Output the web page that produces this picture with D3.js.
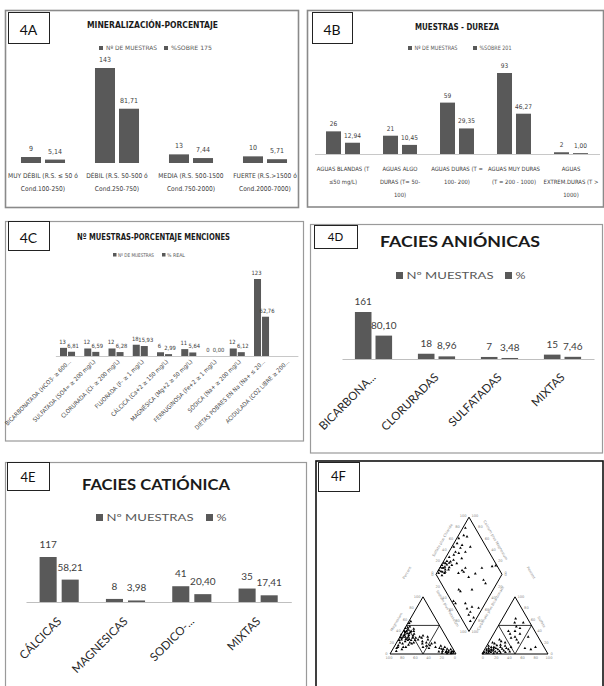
<!DOCTYPE html>
<html><head><meta charset="utf-8">
<script src="https://cdn.jsdelivr.net/npm/d3@7"></script>
<style>body{margin:0;background:#fff}svg{display:block}</style>
</head><body>
<script>
// ================= DATA =================
const panelLabels = ["4A","4B","4C","4D","4E","4F"];
const titles = ["MINERALIZACIÓN-PORCENTAJE","MUESTRAS - DUREZA","Nº MUESTRAS-PORCENTAJE MENCIONES","FACIES ANIÓNICAS","FACIES CATIÓNICA"];

const catsA = [["MUY DÉBIL (R.S. ≤ 50 ó","Cond.100-250)"],["DÉBIL (R.S. 50-500 ó","Cond.250-750)"],["MEDIA (R.S. 500-1500","Cond.750-2000)"],["FUERTE (R.S.>1500 ó","Cond.2000-7000)"]];
const nA = [9,143,13,10];
const pctA = [5.14,81.71,7.44,5.71];
const legendA = ["Nº DE MUESTRAS","%SOBRE 175"];

const catsB = [["AGUAS BLANDAS (T","≤50 mg/L)"],["AGUAS ALGO","DURAS (T= 50-","100)"],["AGUAS DURAS (T =","100- 200)"],["AGUAS MUY DURAS","(T = 200 - 1000)"],["AGUAS","EXTREM.DURAS (T >","1000)"]];
const nB = [26,21,59,93,2];
const pctB = [12.94,10.45,29.35,46.27,1.00];
const legendB = ["Nº DE MUESTRAS","%SOBRE 201"];

const catsC = ["BICARBONATADA (HCO3- ≥ 600...","SULFATADA (SO4= ≥ 200 mg/L)","CLORURADA (Cl- ≥ 200 mg/L)","FLUORADA (F- ≥ 1 mg/L)","CÁLCICA (Ca+2 ≥ 150 mg/L)","MAGNÉSICA (Mg+2 ≥ 50 mg/L)","FERRUGINOSA (Fe+2 ≥ 1 mg/L)","SÓDICA (Na+ ≥ 200 mg/L)","DIETAS POBRES EN Na (Na+ ≤ 20...","ACIDULADA (CO2 LIBRE ≥ 200..."];
const nC = [13,12,12,18,6,11,0,12,123,null];
const pctC = [6.81,6.59,6.28,15.93,2.99,5.64,0,6.12,62.76,null];
const legendC = ["Nº DE MUESTRAS","% REAL"];

const catsD = ["BICARBONA...","CLORURADAS","SULFATADAS","MIXTAS"];
const nD = [161,18,7,15];
const pctD = [80.10,8.96,3.48,7.46];
const legendD = ["Nº MUESTRAS","%"];

const catsE = ["CÁLCICAS","MAGNESICAS","SODICO-...","MIXTAS"];
const nE = [117,8,41,35];
const pctE = [58.21,3.98,20.40,17.41];
const legendE = ["Nº MUESTRAS","%"];

// Piper diagram (4F)
const pipTicks = [0,20,40,60,80,100];
// cation triangle points: [Ca %, Mg %] (Na+K = remainder)
const cationPts = [
[80,15],[75,20],[70,25],[68,28],[65,30],[62,33],[60,35],[58,38],[55,40],[52,42],
[72,18],[66,22],[63,26],[60,28],[57,30],[55,33],[53,36],[50,38],[48,40],[70,12],
[64,16],[60,20],[56,24],[52,28],[49,32],[46,35],[44,40],[42,44],[58,18],[54,20],
[50,24],[47,28],[85,10],[78,8],[74,12],[88,5],[82,12],[58,40],[54,45],[50,46],
[46,48],[44,54],[40,57],[66,34],[70,29],[74,24],[62,30],[58,26],[56,36],[61,24],
[45,25],[40,22],[38,28],[35,20],[42,18],[30,25],[32,15],[28,18],[25,12],[36,10],
[40,30],[34,32],[28,30],[22,20],[38,14],[44,12],
[15,8],[12,5],[10,3],[8,6],[6,2],[5,4],[3,2],[14,3],[18,5],[20,10],[9,9],[4,8],[2,5],[11,12],[16,14],[7,1],[13,1],[20,2],[24,4],[17,9]
];
// anion triangle points: [Cl %, SO4 %] (CO3+HCO3 = remainder)
const anionPts = [
[2,3],[4,6],[6,2],[8,5],[10,8],[12,3],[14,6],[5,10],[3,14],[8,12],[12,12],[16,10],[18,4],[20,8],[22,12],[24,5],[26,9],[15,15],[10,18],[6,20],
[20,16],[28,14],[30,6],[32,10],[34,3],[36,8],[25,20],[18,22],[14,25],[3,8],[7,7],[11,6],[9,2],[17,1],[22,2],[27,2],[38,12],[40,4],[1,1],[13,9],
[25,35],[30,40],[35,30],[40,25],[28,48],[35,45],[20,40],[22,55],[45,20],[40,35],[30,28],
[60,10],[70,8],[75,12],[55,30],[20,62],[35,55]
];
// diamond points: [SO4+Cl %, Ca+Mg %]
const diamondPts = [
[85,96],[76,92],[66,97],[80,86],[65,86],[49,90],[53,84],[44,90],[64,75],[53,75],
[39,86],[33,89],[24,95],[17,99],[13,99],[17,94],[8,99],[16,88],[23,85],[32,84],
[41,78],[50,61],[43,64],[44,60],[35,67],[60,41],[75,36],[67,23],[67,17],[92,22],
[98,17],[47,48],[41,32],[21,52],[22,48],[3,50],[4,45],[19,30],[17,23],[19,15],
[26,17],[35,6],[14,15],[19,5],[11,7],[59,95],[60,86],[51,97],[76,72],
[5,97],[10,95],[12,92],[15,96],[20,93],[8,90],[18,90],[25,92],[28,95],[22,98],[30,90],[35,95],[14,88],[26,86]
];

// ================= DRAWING =================
const NARROW = "'Liberation Sans Narrow','Arial Narrow','DejaVu Sans Condensed',sans-serif";
const CAL = "Lato,'Open Sans','Noto Sans',sans-serif";
const BAR = "#595959", TXT = "#404040";
const svg = d3.select("body").append("svg").attr("width",604).attr("height",686);
svg.append("rect").attr("width",604).attr("height",686).attr("fill","#fff");

// panel frames
const frames = [
  {x:5.5,y:10.5,w:293,h:197,c:"#8a8a8a",sw:1.6},
  {x:307.5,y:10.5,w:296,h:196.5,c:"#8a8a8a",sw:1.6},
  {x:5.5,y:221.5,w:298,h:219.5,c:"#9a9a9a",sw:1.2},
  {x:310.5,y:224.5,w:292,h:228.5,c:"#9a9a9a",sw:1.2},
  {x:5.5,y:462.5,w:301,h:240,c:"#9a9a9a",sw:1.2},
  {x:316,y:461,w:287,h:240,c:"#111",sw:1.6}
];
frames.forEach(f=>svg.append("rect").attr("x",f.x).attr("y",f.y).attr("width",f.w).attr("height",f.h)
  .attr("fill","none").attr("stroke",f.c).attr("stroke-width",f.sw));

const fmtN = v => String(v);
const fmtP = v => v.toFixed(2).replace(".",",");

function barChart(o){
  const g = svg.append("g");
  const idx = d3.range(o.n.length);
  const x0 = d3.scaleBand().domain(idx).range(o.xr).paddingInner(o.p).paddingOuter(o.p/2);
  const x1 = d3.scaleBand().domain([0,1]).range([0,x0.bandwidth()]).paddingInner(o.q);
  const y = d3.scaleLinear().domain([0,o.ymax]).range([o.base,o.top]);
  const series = [o.n,o.pct];
  if(o.axis){
    const ax = g.append("g").attr("transform",`translate(0,${o.base})`)
      .call(d3.axisBottom(x0).tickSize(0).tickSizeOuter(0).tickFormat(""));
    ax.select(".domain").attr("stroke",o.axisColor||"#bfbfbf").attr("stroke-width",1);
  }
  series.forEach((s,si)=>{
    const data = idx.filter(i=>s[i]!==null);
    g.selectAll(null).data(data).enter().append("rect")
      .attr("x",i=>x0(i)+x1(si)).attr("y",i=>y(s[i]))
      .attr("width",x1.bandwidth()).attr("height",i=>o.base-y(s[i]))
      .attr("fill",BAR);
    g.selectAll(null).data(data).enter().append("text")
      .attr("x",i=>x0(i)+x1(si)+x1.bandwidth()/2 + (o.vdx?o.vdx[si]:0)).attr("y",i=>y(s[i])-o.lgap)
      .attr("text-anchor","middle").attr("font-family",o.font).attr("font-size",o.vfs)
      .attr("fill",TXT).text(i=>si===0?fmtN(s[i]):fmtP(s[i]));
  });
  // legend
  o.legend.forEach((t,k)=>{
    g.append("rect").attr("x",o.lx[k]).attr("y",o.ly-o.sq).attr("width",o.sq).attr("height",o.sq).attr("fill",BAR);
    const tx = g.append("text").attr("x",o.lx[k]+o.sq+o.lgapx).attr("y",o.ly)
      .attr("font-family",o.font).attr("font-size",o.lfs).attr("fill","#595959").text(t);
    if(o.lw) tx.attr("textLength",o.lw[k]).attr("lengthAdjust","spacingAndGlyphs");
  });
  // title
  const tt = g.append("text").attr("x",o.tx).attr("y",o.ty).attr("text-anchor","middle")
    .attr("font-family",o.tfont).attr("font-weight","bold").attr("font-size",o.tfs).attr("fill","#1a1a1a").text(o.title);
  if(o.tw) tt.attr("textLength",o.tw).attr("lengthAdjust","spacingAndGlyphs");
  // category labels
  if(o.rot){
    g.selectAll(null).data(idx).enter().append("text")
      .attr("transform",i=>`translate(${x0(i)+x0.bandwidth()/2+o.cdx},${o.cy}) rotate(-45)`)
      .attr("text-anchor","end").attr("font-family",o.font).attr("font-size",o.cfs).attr("fill",o.cfill||TXT)
      .text(i=>o.cats[i]);
  } else {
    idx.forEach(i=>{
      const t = g.append("text").attr("text-anchor","middle").attr("font-family",o.font)
        .attr("font-size",o.cfs).attr("fill",TXT);
      o.cats[i].forEach((line,j)=>t.append("tspan").attr("x",x0(i)+x0.bandwidth()/2).attr("y",o.cy+j*o.clh).text(line));
    });
  }
}

barChart({cats:catsA,n:nA,pct:pctA,legend:legendA,title:titles[0],xr:[6,302],p:0.405,q:0.1667,
  ymax:143,base:163,top:68,lgap:6,font:NARROW,vfs:7,axis:false,
  lx:[99,164],ly:50,sq:4,lgapx:3,lfs:6,lw:[51,41],
  tx:152.5,ty:28,tfont:NARROW,tfs:9.5,tw:131,cy:178,clh:13,cfs:6.6});

barChart({cats:catsB,n:nB,pct:pctB,legend:legendB,title:titles[1],xr:[314.5,599.5],p:0.404,q:0.21,
  ymax:93,base:154,top:73,lgap:5,font:NARROW,vfs:6.5,axis:true,axisColor:"#c8c8c8",
  lx:[408,473],ly:50,sq:4,lgapx:2.5,lfs:6,lw:[43,32],
  tx:457,ty:30,tfont:NARROW,tfs:9.5,tw:84,cy:170.5,clh:13,cfs:5.9});

barChart({cats:catsC,n:nC,pct:pctC,legend:legendC,title:titles[2],xr:[55.4,297.9],p:0.38,q:0.125,
  ymax:123,base:356,top:279,lgap:4,font:NARROW,vfs:5.8,axis:true,axisColor:"#c8c8c8",vdx:[-1,1.5],
  lx:[113,162],ly:256.5,sq:3.5,lgapx:1.5,lfs:5,lw:[36,18],
  tx:153.5,ty:240,tfont:NARROW,tfs:8.5,tw:153,rot:true,cdx:4,cy:362,cfs:6});

barChart({cats:catsD,n:nD,pct:pctD,legend:legendD,title:titles[3],xr:[342,594],p:0.41,q:0.195,
  ymax:161,base:359,top:312,lgap:7,font:CAL,vfs:10,axis:true,axisColor:"#bfbfbf",
  lx:[396,505],ly:279,sq:7,lgapx:3.5,lfs:10,lw:[87,10],
  tx:460,ty:247,tfont:CAL,tfs:15,tw:160,rot:true,cdx:3,cy:378,cfs:11.5,cfill:"#262626"});

barChart({cats:catsE,n:nE,pct:pctE,legend:legendE,title:titles[4],xr:[26,291.3],p:0.41,q:0.227,
  ymax:117,base:602,top:557,lgap:9,font:CAL,vfs:10,axis:true,axisColor:"#bfbfbf",
  lx:[96,206],ly:521,sq:7,lgapx:3.5,lfs:10,lw:[87,10],
  tx:156,ty:490,tfont:CAL,tfs:15,tw:148,rot:true,cdx:3,cy:622,cfs:11.5,cfill:"#262626"});

// panel labels
const lboxes = [
  {x:8,y:12,w:41,h:31,fs:14,by:35},
  {x:312,y:12,w:40,h:31,fs:14,by:35},
  {x:8,y:221,w:41,h:29,fs:14,by:243},
  {x:314,y:225,w:43,h:23,fs:11.5,by:241},
  {x:7,y:462,w:42,h:28,fs:13,by:482},
  {x:318,y:462,w:41,h:29,fs:13,by:481}
];
lboxes.forEach((b,i)=>{
  svg.append("rect").attr("x",b.x+0.5).attr("y",b.y+0.5).attr("width",b.w).attr("height",b.h)
    .attr("fill","#fff").attr("stroke","#222").attr("stroke-width",1);
  svg.append("text").attr("x",b.x+b.w/2).attr("y",b.by).attr("text-anchor","middle")
    .attr("font-family",CAL).attr("font-size",b.fs).attr("fill","#111").text(panelLabels[i]);
});

// ================= PIPER (4F) =================
const P = svg.append("g");
const side = 66, gap = 26, baseY = 654, lx0 = 390;
const hgt = side*Math.sqrt(3)/2;
const tY = d3.scaleLinear().domain([0,100]).range([baseY, baseY-hgt]);
const cX = d3.scaleLinear().domain([0,100]).range([lx0, lx0+side]);
const aX = d3.scaleLinear().domain([0,100]).range([lx0+side+gap, lx0+2*side+gap]);
const midX = lx0+side+gap/2;
const dX = d3.scaleLinear().domain([-50,50]).range([midX-side/2, midX+side/2]);
const dBase = baseY - gap*Math.sqrt(3)/2;
const dY = d3.scaleLinear().domain([0,100]).range([dBase, dBase-2*hgt]);

const cat = (ca,mg)=>{const na=100-ca-mg; return [cX(na+mg/2), tY(mg)];};
const an = (cl,so4)=>[aX(cl+so4/2), tY(so4)];
const dia = (a,c)=>[dX((a-c)/2), dY((a+c)/2)];
const line = d3.line();

// outlines
P.append("path").attr("d",line([cat(100,0),cat(0,0),cat(0,100)])+"Z").attr("fill","none").attr("stroke","#000").attr("stroke-width",1);
P.append("path").attr("d",line([an(0,0),an(100,0),an(0,100)])+"Z").attr("fill","none").attr("stroke","#000").attr("stroke-width",1);
P.append("path").attr("d",line([dia(0,0),dia(100,0),dia(100,100),dia(0,100)])+"Z").attr("fill","none").attr("stroke","#000").attr("stroke-width",1);
// classification (50%) lines
P.append("path").attr("d",line([cat(50,50),cat(0,50),cat(50,0)])+"Z").attr("fill","none").attr("stroke","#000").attr("stroke-width",0.8);
P.append("path").attr("d",line([an(0,50),an(50,50),an(50,0)])+"Z").attr("fill","none").attr("stroke","#000").attr("stroke-width",0.8);

// points
const sym = d3.symbol().type(d3.symbolTriangle).size(3.5)();
const drawPts = (pts,f)=>P.selectAll(null).data(pts).enter().append("path").attr("d",sym)
  .attr("transform",d=>{const p=f(d[0],d[1]);return `translate(${p[0]},${p[1]})`;}).attr("fill","#000");
drawPts(cationPts,cat); drawPts(anionPts,an); drawPts(diamondPts,dia);

// tick labels
const TG = "#8a8a8a", tfs = 3.6;
const tick = (p,txt,dx,dy,anchor)=>P.append("text").attr("x",p[0]+dx).attr("y",p[1]+dy).attr("text-anchor",anchor)
  .attr("font-family","'DejaVu Sans',sans-serif").attr("font-size",tfs).attr("fill",TG).text(txt);
pipTicks.forEach(t=>{
  tick(cat(100-t,t),t,-2.5,1.2,"end");            // Magnesium (left side)
  tick(cat(t,0),t,-1,5,"middle");                // Calcium (base)
  tick(an(100-t,t),t,2.5,1.2,"start");            // Sulfate (right side)
  tick(an(t,0),t,1,5,"middle");                  // Chloride (base)
  tick(dia(t,100),t,-2.5,-0.5,"end");            // Sulfate plus Chloride
  tick(dia(100,t),t,2.5,-0.5,"start");           // Calcium plus Magnesium
  tick(dia(0,t),100-t,-2.5,2,"end");             // Sodium plus Potassium
  tick(dia(t,0),100-t,2.5,2,"start");            // Carbonate plus Bicarbonate
});
const ttl = (p,txt,ang)=>P.append("text").attr("transform",`translate(${p[0]},${p[1]}) rotate(${ang})`)
  .attr("text-anchor","middle").attr("font-family","'DejaVu Sans',sans-serif").attr("font-size",3.6).attr("fill",TG).text(txt);
const off = (p,dx,dy)=>[p[0]+dx,p[1]+dy];
ttl(off(cat(50,50),-9,-3),"Magnesium",-60);
ttl(off(an(50,50),9,-3),"Sulfate",60);
ttl(off(dia(50,100),-9,-5),"Sulfate plus Chloride",-60);
ttl(off(dia(100,50),9,-5),"Calcium plus Magnesium",60);
ttl(off(dia(0,50),-6,6),"Sodium plus Potassium",60);
ttl(off(dia(50,0),6,6),"Carbonate plus Bicarbonate",-60);
ttl(off(dia(0,100),-28,-1),"Percent",-60);
ttl(off(dia(100,0),28,-1),"Percent",60);
</script>
</body></html>
